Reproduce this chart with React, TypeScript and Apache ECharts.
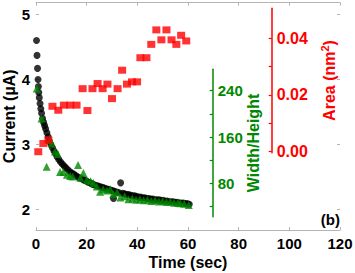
import React, { useEffect, useRef } from "react";
import * as echarts from "echarts";

// Current (µA) vs time (black circles)
const currentTime = [0.2,0.4,0.6,0.8,0.95,1.1,1.3,1.6,1.9,2.2,2.6,3.0,3.4,3.8,4.3,4.8,5.3,5.9,6.5,7.1,7.7,8.3,9.0,9.7,10.4,11.1,11.8,12.6,13.4,14.2,15.0,15.8,16.6,17.4,18.2,19.0,19.8,20.6,21.4,22.2,23.0,23.8,24.6,25.4,26.2,27.0,27.8,28.6,29.4,30.2,30.6,31.0,31.8,32.6,33.4,34.2,35.0,35.8,36.6,37.4,38.2,39.0,39.8,40.6,41.4,42.2,43.0,43.8,44.6,45.4,46.2,47.0,47.8,48.6,49.4,50.2,51.0,51.8,52.6,53.4,54.2,55.0,55.8,56.6,57.4,58.2,59.0,59.8,60.5];
const currentValues = [4.60,4.37,4.17,4.00,3.89,3.80,3.72,3.63,3.55,3.48,3.40,3.34,3.29,3.24,3.18,3.12,3.05,3.00,2.95,2.90,2.86,2.81,2.77,2.73,2.70,2.67,2.64,2.61,2.58,2.56,2.54,2.52,2.50,2.48,2.47,2.45,2.44,2.42,2.41,2.39,2.38,2.37,2.36,2.35,2.34,2.33,2.32,2.31,2.30,2.29,2.17,2.28,2.27,2.26,2.41,2.25,2.24,2.23,2.23,2.22,2.21,2.21,2.20,2.19,2.19,2.18,2.18,2.17,2.17,2.16,2.16,2.15,2.15,2.15,2.14,2.14,2.13,2.13,2.12,2.12,2.12,2.11,2.11,2.10,2.10,2.10,2.09,2.09,2.08];

// Width/Height vs time (green triangles)
const ratioTime = [0.3,2.2,4.2,5.5,6.2,7.5,8.6,9.5,10.8,12.2,13.5,14.5,16.6,17.5,18.7,20.0,21.5,22.7,24.0,25.3,26.5,28.0,29.3,30.5,32.0,33.3,35.0,36.5,38.0,39.5,41.0,42.5,44.0,45.5,47.0,48.5,50.0,51.5,53.0,54.5,56.0,57.0,58.5,60.3];
const ratioValues = [244,192,109,155,149,135,131,100,100,95,93,92,112,90,98,86,84,81,75,66,70,68,70,62,65,56,58,53,54,52,53,51,52,50,51,49,50,48,49,47,47,46,45,43];

// Area (nm^2) vs time (red squares)
const areaTime = [0.9,2.9,4.9,6.5,8.8,11.0,13.5,16.0,18.4,20.3,22.3,24.3,26.3,28.2,30.0,32.2,34.0,35.9,37.9,39.9,41.2,43.6,45.5,47.5,49.5,51.5,53.5,55.4,57.3,59.3];
const areaValues = [0.0000,0.0029,0.0041,0.0160,0.0146,0.0164,0.0164,0.0164,0.0222,0.0145,0.0222,0.0240,0.0222,0.0238,0.0187,0.0222,0.0287,0.0238,0.0246,0.0246,0.0331,0.0331,0.0378,0.0429,0.0394,0.0429,0.0394,0.0378,0.0410,0.0390];

const xTicks = [0, 20, 40, 60, 80, 100, 120];
const currentTicks = [2, 3, 4, 5];
const ratioTicks = [40, 80, 120, 160, 200, 240];
const ratioLabels = [80, 160, 240];
const areaTicks = [0, 0.01, 0.02, 0.03, 0.04];
const areaLabels = [0, 0.02, 0.04];

const FONT = "'Liberation Sans', Arial, Helvetica, sans-serif";
const GREEN = "#008800";
const RED = "#ff0000";
const GRAY = "#b4b4b4";

// pixel layout of the main frame (x: 0..120 over 36..340)
const PLOT_LEFT = 36;
const PLOT_RIGHT = 340;
const GREEN_AXIS_X = 212.7;
const RED_AXIS_X = 271.7;
const X_MAX = 120;

export default function App() {
  const ref = useRef<HTMLDivElement>(null);
  useEffect(() => {
    if (!ref.current) return;
    const chart = echarts.init(ref.current, undefined, { renderer: "svg" });
    const W = 355;
    const pxPerSec = (PLOT_RIGHT - PLOT_LEFT) / X_MAX;
    const pair = (xs: number[], ys: number[]) => xs.map((x, i) => [x, ys[i]]);
    const hiddenX = (gridIndex: number, max: number) => ({
      type: "value", gridIndex, min: 0, max, show: false,
    });
    const g = (top: number, bottom: number, rightX: number) => ({
      left: PLOT_LEFT, right: W - rightX, top, bottom, containLabel: false, outerBoundsMode: "none",
    });
    chart.setOption({
      animation: false,
      backgroundColor: "#ffffff",
      textStyle: { fontFamily: FONT },
      grid: [
        g(2.7, 43, PLOT_RIGHT),
        g(69.3, 56.3, GREEN_AXIS_X),
        g(8.3, 120.3, RED_AXIS_X),
      ],
      xAxis: [
        {
          type: "value", gridIndex: 0, position: "bottom", min: 0, max: X_MAX, interval: 20,
          axisLine: { show: true, onZero: false, lineStyle: { color: GRAY, width: 1 } },
          axisTick: { show: true, inside: true, length: 3, lineStyle: { color: GRAY } },
          axisLabel: {
            show: true, margin: 6, color: "#000", fontWeight: "bold", fontSize: 15, fontFamily: FONT,
            customValues: xTicks,
          },
          splitLine: { show: false },
          name: "Time (sec)", nameLocation: "middle", nameGap: 24, nameMoveOverlap: false,
          nameTextStyle: { color: "#000", fontWeight: "bold", fontSize: 16, fontFamily: FONT },
        },
        {
          type: "value", gridIndex: 0, position: "top", min: 0, max: X_MAX, interval: 20,
          axisLine: { show: true, onZero: false, lineStyle: { color: GRAY, width: 1 } },
          axisTick: { show: true, inside: true, length: 3, lineStyle: { color: GRAY } },
          axisLabel: { show: false },
          splitLine: { show: false },
        },
        hiddenX(1, (GREEN_AXIS_X - PLOT_LEFT) / pxPerSec),
        hiddenX(2, (RED_AXIS_X - PLOT_LEFT) / pxPerSec),
      ],
      yAxis: [
        {
          type: "value", gridIndex: 0, position: "left", min: 1.685, max: 5.18,
          axisLine: { show: false, onZero: false },
          axisTick: { show: true, inside: true, length: 3, lineStyle: { color: GRAY }, customValues: currentTicks },
          axisLabel: {
            show: true, margin: 6, color: "#000", fontWeight: "bold", fontSize: 15, fontFamily: FONT,
            customValues: currentTicks,
          },
          splitLine: { show: false },
          name: "Current (\u00b5A)", nameLocation: "middle", nameGap: 19, nameRotate: 90, nameMoveOverlap: false,
          nameTextStyle: { color: "#000", fontWeight: "bold", fontSize: 16, fontFamily: FONT },
        },
        {
          type: "value", gridIndex: 0, position: "right", min: 1.685, max: 5.18,
          axisLine: { show: false, onZero: false },
          axisTick: { show: true, inside: true, length: 3, lineStyle: { color: GRAY }, customValues: currentTicks },
          axisLabel: { show: false },
          splitLine: { show: false },
        },
        {
          type: "value", gridIndex: 1, position: "right", min: 22.8, max: 276.9,
          axisLine: { show: true, onZero: false, lineStyle: { color: GREEN, width: 1.5 } },
          axisTick: { show: true, inside: true, length: 3, lineStyle: { color: GREEN, width: 1.2 }, customValues: ratioTicks },
          axisLabel: {
            show: true, margin: 5, color: GREEN, fontWeight: "bold", fontSize: 15, fontFamily: FONT,
            customValues: ratioLabels,
          },
          splitLine: { show: false },
          name: "Width/Height", nameLocation: "middle", nameGap: 33, nameRotate: 90, nameMoveOverlap: false,
          nameTextStyle: { color: GREEN, fontWeight: "bold", fontSize: 16, fontFamily: FONT },
        },
        {
          type: "value", gridIndex: 2, position: "right", min: -0.00035, max: 0.0505,
          axisLine: { show: true, onZero: false, lineStyle: { color: RED, width: 1.5 } },
          axisTick: { show: true, inside: true, length: 3, lineStyle: { color: RED, width: 1.2 }, customValues: areaTicks },
          axisLabel: {
            show: true, margin: 5, color: RED, fontWeight: "bold", fontSize: 16, fontFamily: FONT,
            customValues: areaLabels,
            formatter: (v: number) => v.toFixed(2),
          },
          splitLine: { show: false },
          name: "Area (nm{sup|2})", nameLocation: "middle", nameGap: 48, nameRotate: 90, nameMoveOverlap: false,
          nameTextStyle: {
            color: RED, fontWeight: "bold", fontSize: 16, fontFamily: FONT,
            rich: { sup: { color: RED, fontWeight: "bold", fontSize: 11, fontFamily: FONT, verticalAlign: "top", padding: [0, 0, 8, 0] } },
          },
        },
      ],
      series: [
        {
          type: "scatter", xAxisIndex: 0, yAxisIndex: 0, data: pair(currentTime, currentValues),
          symbol: "circle", symbolSize: 7, itemStyle: { color: "#000" }, z: 2,
        },
        {
          type: "scatter", xAxisIndex: 2, yAxisIndex: 2, data: pair(ratioTime, ratioValues),
          symbol: "triangle", symbolSize: 8, itemStyle: { color: GREEN }, z: 3,
        },
        {
          type: "scatter", xAxisIndex: 3, yAxisIndex: 3, data: pair(areaTime, areaValues),
          symbol: "rect", symbolSize: [8, 7], itemStyle: { color: RED }, z: 4,
        },
      ],
      graphic: [
        {
          type: "text", right: 15, top: 212,
          style: { text: "(b)", fill: "#000", font: `bold 15px ${FONT}` },
        },
      ],
    });
    return () => chart.dispose();
  }, []);
  return <div ref={ref} style={{ position: "fixed", left: 0, top: 0, width: 355, height: 273 }} />;
}
